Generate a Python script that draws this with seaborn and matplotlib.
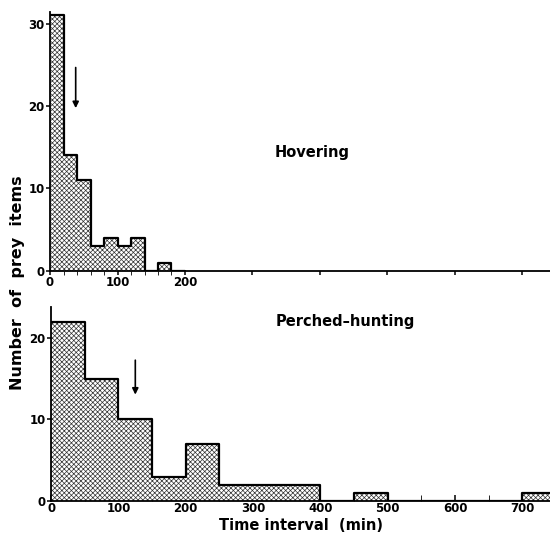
import numpy as np
import pandas as pd
import matplotlib
matplotlib.use("Agg")
import matplotlib.pyplot as plt
import seaborn as sns

# hovering: 20-min bins
hover_edges = [0, 20, 40, 60, 80, 100, 120, 140, 160, 180, 200]
hover_counts = [31, 14, 11, 3, 4, 3, 4, 0, 1, 0]
hover_arrow = 38  # min

# perched-hunting: 50-min bins
perch_edges = [0, 50, 100, 150, 200, 250, 300, 350, 400, 450, 500, 550, 600, 650, 700, 750]
perch_counts = [22, 15, 10, 3, 7, 2, 2, 2, 0, 1, 0, 0, 0, 0, 1]
perch_arrow = 125  # min

sns.set_style("ticks")
plt.rcParams['font.family'] = ['DejaVu Sans']
plt.rcParams['font.weight'] = 'bold'
plt.rcParams['hatch.linewidth'] = 0.5
for k in ['text.color', 'axes.labelcolor', 'xtick.color', 'ytick.color', 'axes.edgecolor']:
    plt.rcParams[k] = 'black'

fig = plt.figure(figsize=(5.5, 5.44), dpi=100)
ax1 = fig.add_axes([0.091, 0.502, 0.909, 0.476])
ax2 = fig.add_axes([0.093, 0.079, 0.907, 0.357])


def draw(ax, edges, counts):
    e = np.array(edges)
    df = pd.DataFrame({'t': (e[:-1] + e[1:]) / 2, 'n': counts})
    sns.histplot(data=df, x='t', weights='n', bins=list(edges), element='step',
                 fill=True, color='white', alpha=1, edgecolor='#333333',
                 hatch='xxxxxxx', linewidth=0, ax=ax)
    sns.histplot(data=df, x='t', weights='n', bins=list(edges), element='step',
                 fill=False, color='black', linewidth=1.6, ax=ax)
    # close the bars at the bottom of each step
    ax.set_xlabel('')
    ax.set_ylabel('')
    sns.despine(ax=ax)
    for s in ['left', 'bottom']:
        ax.spines[s].set_linewidth(1.3)
    ax.tick_params(labelsize=8.5, width=1.1, length=3, pad=1)


draw(ax1, hover_edges, hover_counts)
ax1.set_xlim(0, 741)
ax1.set_ylim(0, 31.4)
ax1.set_yticks([0, 10, 20, 30])
ax1.set_xticks([0, 100, 200, 300, 400, 500, 600, 700])
ax1.set_xticklabels(['0', '100', '200', '', '', '', '', ''])
ax1.set_xticks([20, 40, 60, 80, 120, 140, 160, 180], minor=True)
ax1.tick_params(axis='x', which='both', direction='out', length=3)
for lab in ax1.get_xticklabels() + ax1.get_yticklabels():
    lab.set_fontweight('bold')
ax1.annotate('', xy=(hover_arrow, 19.4), xytext=(hover_arrow, 25),
             arrowprops=dict(arrowstyle='-|>', color='black', lw=1.2,
                             mutation_scale=9))
ax1.text(333, 14.4, 'Hovering', fontsize=10.5, fontweight='bold',
         ha='left', va='center')

draw(ax2, perch_edges, perch_counts)
ax2.set_xlim(0, 741)
ax2.set_ylim(0, 23.8)
ax2.set_yticks([0, 10, 20])
ax2.set_xticks([0, 100, 200, 300, 400, 500, 600, 700])
ax2.set_xticks([50, 150, 250, 350, 450, 550, 650], minor=True)
ax2.tick_params(axis='x', which='both', direction='in', length=4)
for lab in ax2.get_xticklabels() + ax2.get_yticklabels():
    lab.set_fontweight('bold')
ax2.annotate('', xy=(perch_arrow, 12.7), xytext=(perch_arrow, 17.6),
             arrowprops=dict(arrowstyle='-|>', color='black', lw=1.2,
                             mutation_scale=9))
ax2.text(333, 22, 'Perched\u2013hunting', fontsize=10.5, fontweight='bold',
         ha='left', va='center')
ax2.set_xlabel('Time interval  (min)', fontsize=10.5, fontweight='bold',
               labelpad=2)

fig.text(0.032, 0.48, 'Number  of  prey  items', rotation=90, fontsize=11.5,
         fontweight='bold', ha='center', va='center')

fig.savefig('out.png', dpi=100, facecolor='white')
